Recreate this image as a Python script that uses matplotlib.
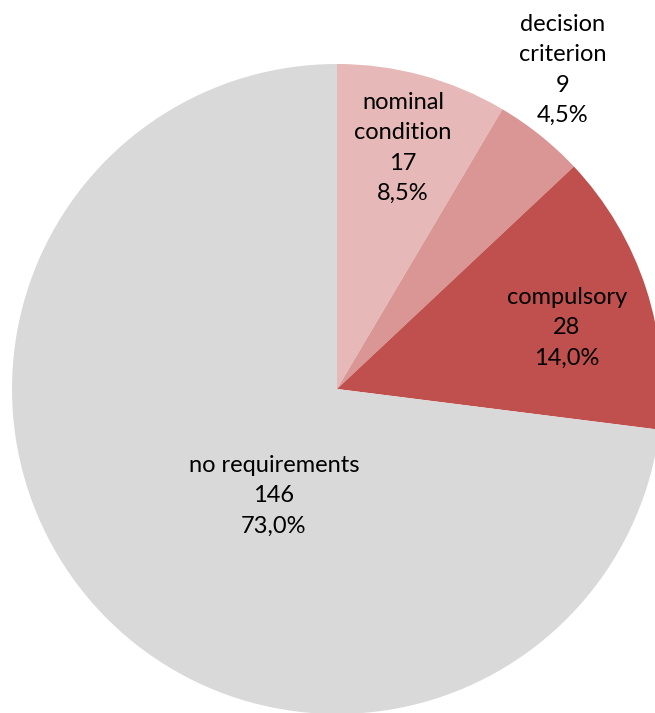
import matplotlib.pyplot as plt

# Anteile der Anforderungsarten
kategorien = ["nominal\ncondition", "decision\ncriterion", "compulsory", "no requirements"]
anzahl = [17, 9, 28, 146]
prozent = ["8,5%", "4,5%", "14,0%", "73,0%"]
farben = ["#E6B9B8", "#D99694", "#C0504D", "#D9D9D9"]

# Label-Positionen (Pixel im Bild, von oben gemessen)
label_pos = [(403, 148), (563, 70), (567, 328), (274, 496)]

W, H = 655, 713
fig = plt.figure(figsize=(W / 100, H / 100), dpi=100)
ax = fig.add_axes([0, 0, 1, 1])

ax.pie(anzahl, colors=farben, startangle=90, counterclock=False,
       center=(337, H - 389), radius=325,
       wedgeprops=dict(linewidth=0))

for name, n, p, (x, y) in zip(kategorien, anzahl, prozent, label_pos):
    ax.text(x, H - y, f"{name}\n{n}\n{p}", ha="center", va="center",
            fontsize=17, family="Lato", linespacing=1.55, color="black")

ax.set_xlim(0, W)
ax.set_ylim(0, H)
ax.set_aspect("equal")
ax.axis("off")

fig.savefig("out.png", dpi=100)
